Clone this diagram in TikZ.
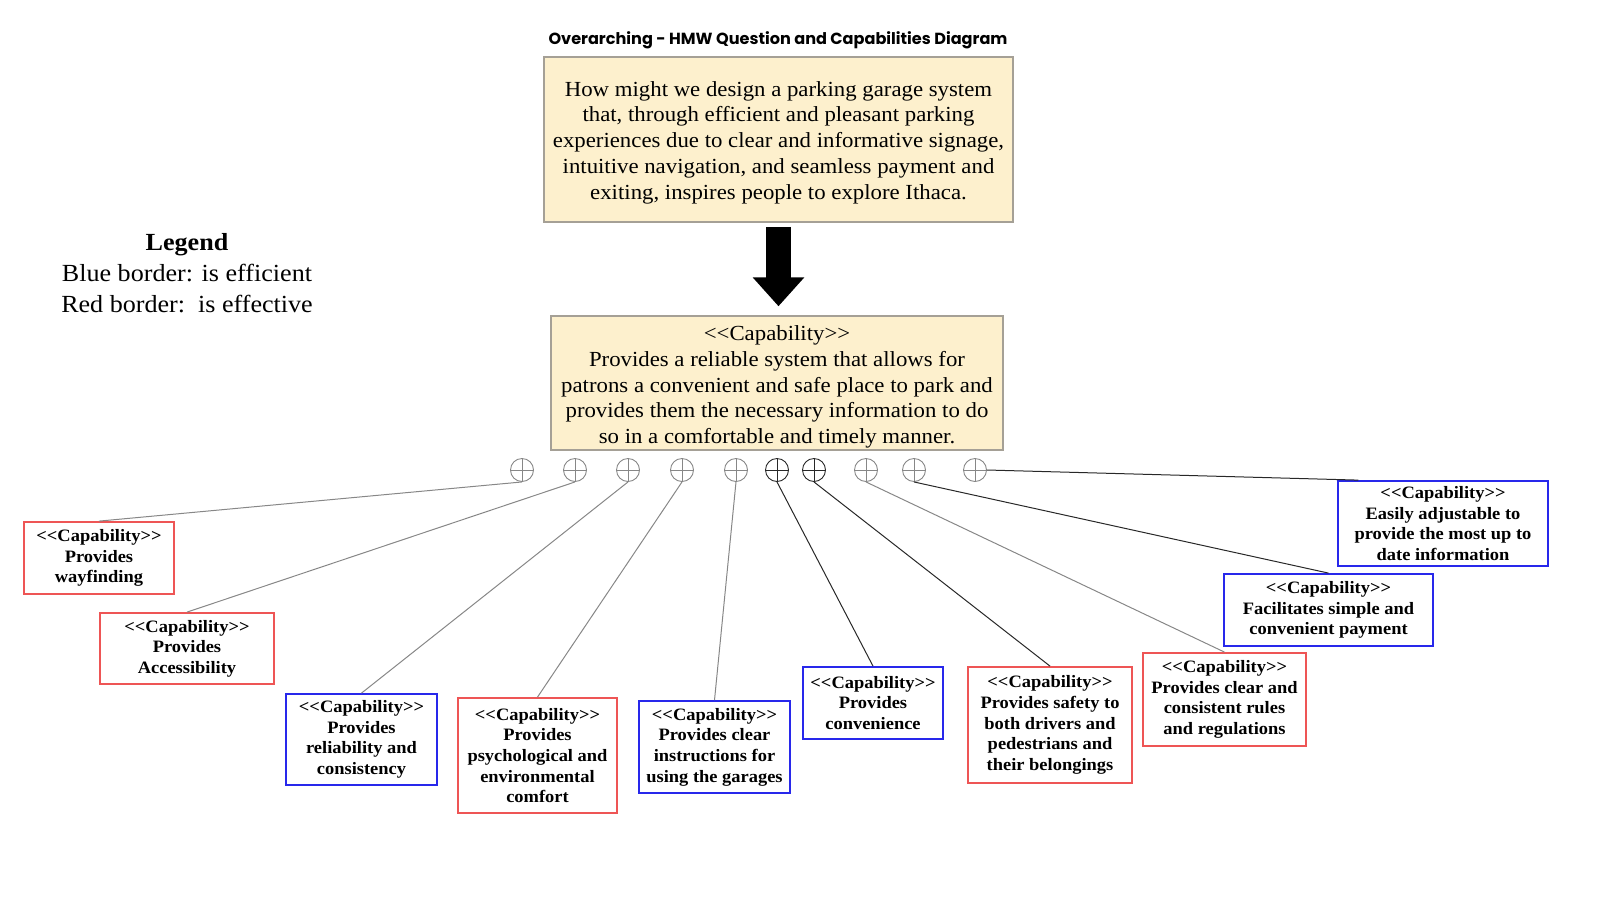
\documentclass[tikz,border=0pt]{standalone}
\usepackage{fontspec}
\setmainfont{Liberation Serif}[Ligatures=TeXOff, FakeStretch=1.06]
\newfontfamily\titlefont{Poppins}
\usetikzlibrary{arrows.meta,calc}
\definecolor{cream}{RGB}{253,240,205}
\definecolor{creamline}{RGB}{165,160,150}
\definecolor{effred}{RGB}{238,85,85}
\definecolor{effblue}{RGB}{40,40,235}
\definecolor{conngray}{RGB}{135,135,135}
\definecolor{conndark}{RGB}{40,40,40}
\tikzset{
  topbox/.style={draw=creamline, fill=cream, line width=1.5pt, inner sep=0pt},
  toptext/.style={align=center, inner sep=0pt, font=\fontsize{21.5}{25.7}\selectfont},
  capbox/.style={line width=1.8pt, align=center, inner sep=0pt,
    font=\fontsize{17.4}{20.6}\selectfont\bfseries},
  redbox/.style={capbox, draw=effred},
  bluebox/.style={capbox, draw=effblue},
  junction/.style={circle, draw=#1, line width=0.9pt, minimum size=23pt, inner sep=0pt,
    path picture={\draw[#1, line width=0.9pt] (path picture bounding box.north) -- (path picture bounding box.south)
      (path picture bounding box.west) -- (path picture bounding box.east);}},
  junction/.default=conngray,
  conn/.style={draw=#1, line width=1pt},
  conn/.default=conngray
}
\begin{document}
\begin{tikzpicture}[x=1pt,y=-1pt]
\useasboundingbox (0,0) rectangle (1612,898);

\node[font=\titlefont\fontsize{16.1}{18}\selectfont\bfseries] (title) at (778,40.5) {Overarching - HMW Question and Capabilities Diagram};

\node[topbox, minimum width=469pt, minimum height=165pt] (hmw) at (778.5,139.5) {};
\node[toptext] (hmwtext) at ([yshift=-3pt]hmw.center)
 {How might we design a parking garage system\\that, through efficient and pleasant parking\\experiences due to clear and informative signage,\\intuitive navigation, and seamless payment and\\exiting, inspires people to explore Ithaca.};

\node[topbox, minimum width=452pt, minimum height=134pt] (cap) at (777,383) {};
\node[toptext] (captext) at ([yshift=-4pt]cap.center)
 {<<Capability>>\\Provides a reliable system that allows for\\patrons a convenient and safe place to park and\\provides them the necessary information to do\\so in a comfortable and timely manner.};

\draw[line width=25pt, -{Triangle[length=29pt, width=50pt]}, shorten <=4pt, shorten >=9pt]
  (hmw.south) -- (hmw.south |- cap.north);

\node[align=center, font=\fontsize{24.6}{31}\selectfont] (legend) at (187,273)
 {\textbf{Legend}\\Blue border: is efficient\\Red border:\ \ is effective};

% junctions
\node[junction] (j1) at (522,470) {};
\node[junction] (j2) at (575,470) {};
\node[junction] (j3) at (628,470) {};
\node[junction] (j4) at (682,470) {};
\node[junction] (j5) at (736,470) {};
\node[junction=conndark] (j6) at (777,470) {};
\node[junction=conndark] (j7) at (814,470) {};
\node[junction] (j8) at (866,470) {};
\node[junction] (j9) at (914,470) {};
\node[junction] (j10) at (975,470) {};

% capability boxes
\node[redbox, minimum width=150pt, minimum height=72pt] (b1) at (99,558)
 {<<Capability>>\\Provides\\wayfinding};
\node[redbox, minimum width=174pt, minimum height=71pt] (b2) at (187,648.5)
 {<<Capability>>\\Provides\\Accessibility};
\node[bluebox, minimum width=151pt, minimum height=91pt] (b3) at (361.5,739.5)
 {<<Capability>>\\Provides\\reliability and\\consistency};
\node[redbox, minimum width=159pt, minimum height=115pt] (b4) at (537.5,755.5)
 {<<Capability>>\\Provides\\psychological and\\environmental\\comfort};
\node[bluebox, minimum width=151pt, minimum height=92pt] (b5) at (714.5,747)
 {<<Capability>>\\Provides clear\\instructions for\\using the garages};
\node[bluebox, minimum width=140pt, minimum height=72pt] (b6) at (873,703)
 {<<Capability>>\\Provides\\convenience};
\node[redbox, minimum width=164pt, minimum height=116pt] (b7) at (1050,725)
 {<<Capability>>\\Provides safety to\\both drivers and\\pedestrians and\\their belongings};
\node[redbox, minimum width=163pt, minimum height=93pt] (b8) at (1224.5,699.5)
 {<<Capability>>\\Provides clear and\\consistent rules\\and regulations};
\node[bluebox, minimum width=209pt, minimum height=72pt] (b9) at (1328.5,610)
 {<<Capability>>\\Facilitates simple and\\convenient payment};
\node[bluebox, minimum width=210pt, minimum height=85pt] (b10) at (1443,523.5)
 {<<Capability>>\\Easily adjustable to\\provide the most up to\\date information};

\coordinate (b10in) at ($(b10.north west)!0.1!(b10.north east)$);

% connectors
\draw[conn] (j1.south) -- (b1.north);
\draw[conn] (j2.south) -- (b2.north);
\draw[conn] (j3.south) -- (b3.north);
\draw[conn] (j4.south) -- (b4.north);
\draw[conn] (j5.south) -- (b5.north);
\draw[conn=conndark] (j6.south) -- (b6.north);
\draw[conn=conndark] (j7.south) -- (b7.north);
\draw[conn] (j8.south) -- (b8.north);
\draw[conn=conndark] (j9.south) -- (b9.north);
\draw[conn=conndark] (j10.east) -- (b10in);
\end{tikzpicture}
\end{document}
